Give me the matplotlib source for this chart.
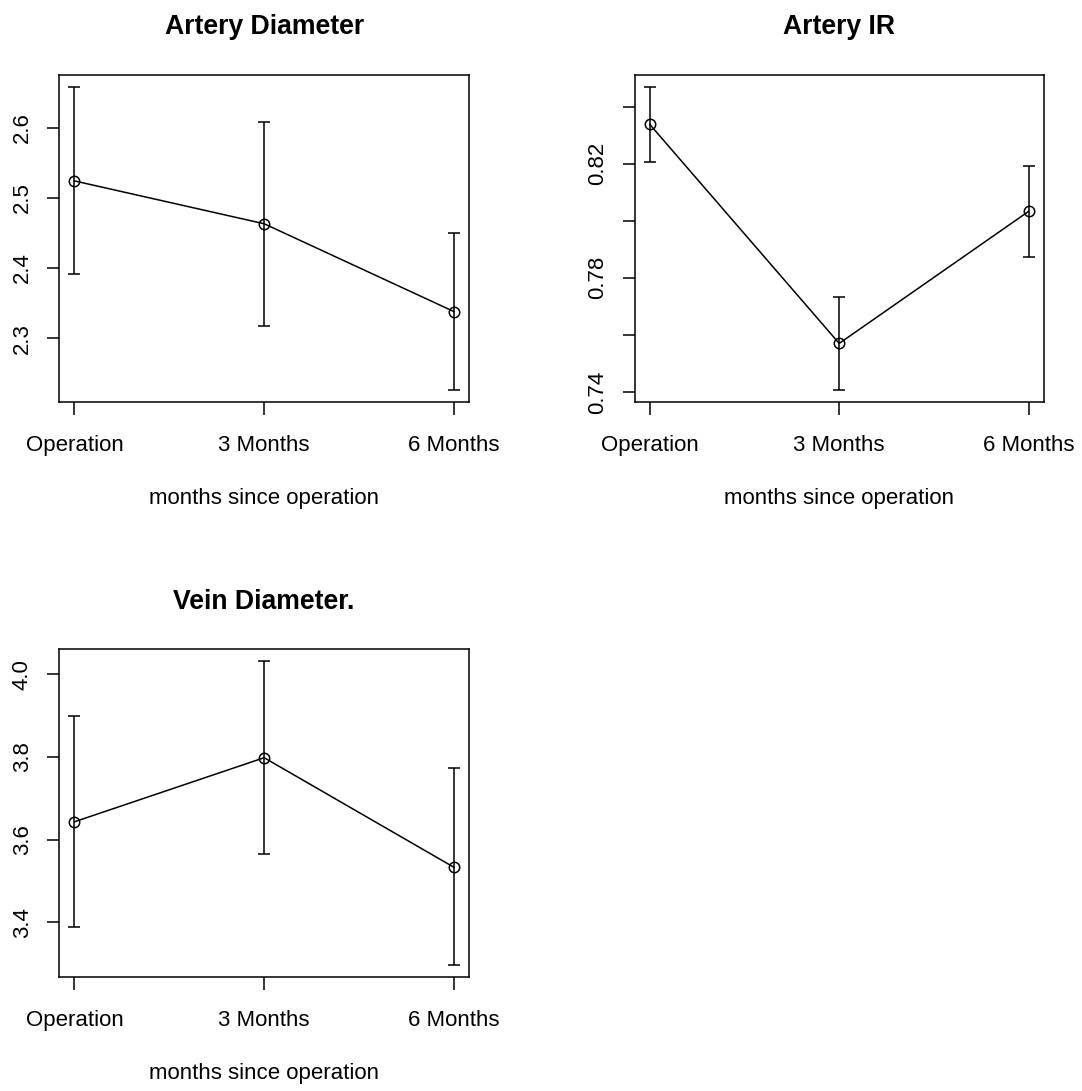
import numpy as np
import matplotlib.pyplot as plt

plt.rcParams['font.family'] = ['Liberation Sans', 'DejaVu Sans']

# time points (x positions 1..3) and their labels
timepoints = [1, 2, 3]
time_labels = ['Operation', '3 Months', '6 Months']

# Artery Diameter
art_diam_mean = [2.524, 2.463, 2.338]
art_diam_low = [2.392, 2.317, 2.226]
art_diam_high = [2.658, 2.608, 2.450]
art_diam_ticks = [2.3, 2.4, 2.5, 2.6]
art_diam_ticklabels = ['2.3', '2.4', '2.5', '2.6']

# Artery IR
art_ir_mean = [0.8338, 0.7570, 0.8033]
art_ir_low = [0.8205, 0.7406, 0.7872]
art_ir_high = [0.8470, 0.7733, 0.8194]
art_ir_ticks = [0.74, 0.76, 0.78, 0.80, 0.82, 0.84]
art_ir_ticklabels = ['0.74', '', '0.78', '', '0.82', '']

# Vein Diameter
vein_diam_mean = [3.643, 3.798, 3.533]
vein_diam_low = [3.389, 3.565, 3.296]
vein_diam_high = [3.900, 4.031, 3.772]
vein_diam_ticks = [3.4, 3.6, 3.8, 4.0]
vein_diam_ticklabels = ['3.4', '3.6', '3.8', '4.0']

W, H = 1082, 1091
fig = plt.figure(figsize=(W / 100, H / 100), dpi=100)


def panel(rect, title, mean, low, high, ticks, ticklabels):
    ax = fig.add_axes(rect)
    mean = np.array(mean)
    yerr = [mean - np.array(low), np.array(high) - mean]
    ax.errorbar(timepoints, mean, yerr=yerr, color='black', lw=1.1,
                elinewidth=1.1, capsize=4, capthick=1.1,
                marker='o', markersize=7.5, markerfacecolor='none',
                markeredgecolor='black', markeredgewidth=1.1)
    lo, hi = min(low), max(high)
    pad = (hi - lo) * 0.04
    ax.set_ylim(lo - pad, hi + pad)
    ax.set_xlim(0.92, 3.08)
    ax.set_xticks(timepoints)
    ax.set_xticklabels(time_labels, fontsize=16)
    ax.set_yticks(ticks)
    ax.set_yticklabels(ticklabels, fontsize=16, rotation=90, va='center')
    ax.tick_params(axis='both', length=9, width=1.1, color='black')
    ax.tick_params(axis='x', pad=14.5)
    ax.tick_params(axis='y', pad=10)
    for s in ax.spines.values():
        s.set_linewidth(1.1)
    ax.set_title(title, fontsize=19.2, fontweight='bold', pad=29)
    ax.set_xlabel('months since operation', fontsize=16, va='center')
    ax.xaxis.set_label_coords(0.5, -0.293)
    return ax


panel([59.3 / W, 1 - 402.3 / H, 409.7 / W, 327.6 / H], 'Artery Diameter',
      art_diam_mean, art_diam_low, art_diam_high, art_diam_ticks, art_diam_ticklabels)
panel([634.7 / W, 1 - 402.3 / H, 409.0 / W, 327.6 / H], 'Artery IR',
      art_ir_mean, art_ir_low, art_ir_high, art_ir_ticks, art_ir_ticklabels)
panel([59.3 / W, 1 - 977.3 / H, 409.7 / W, 328.0 / H], 'Vein Diameter.',
      vein_diam_mean, vein_diam_low, vein_diam_high, vein_diam_ticks, vein_diam_ticklabels)

fig.savefig('out.png', dpi=100)
